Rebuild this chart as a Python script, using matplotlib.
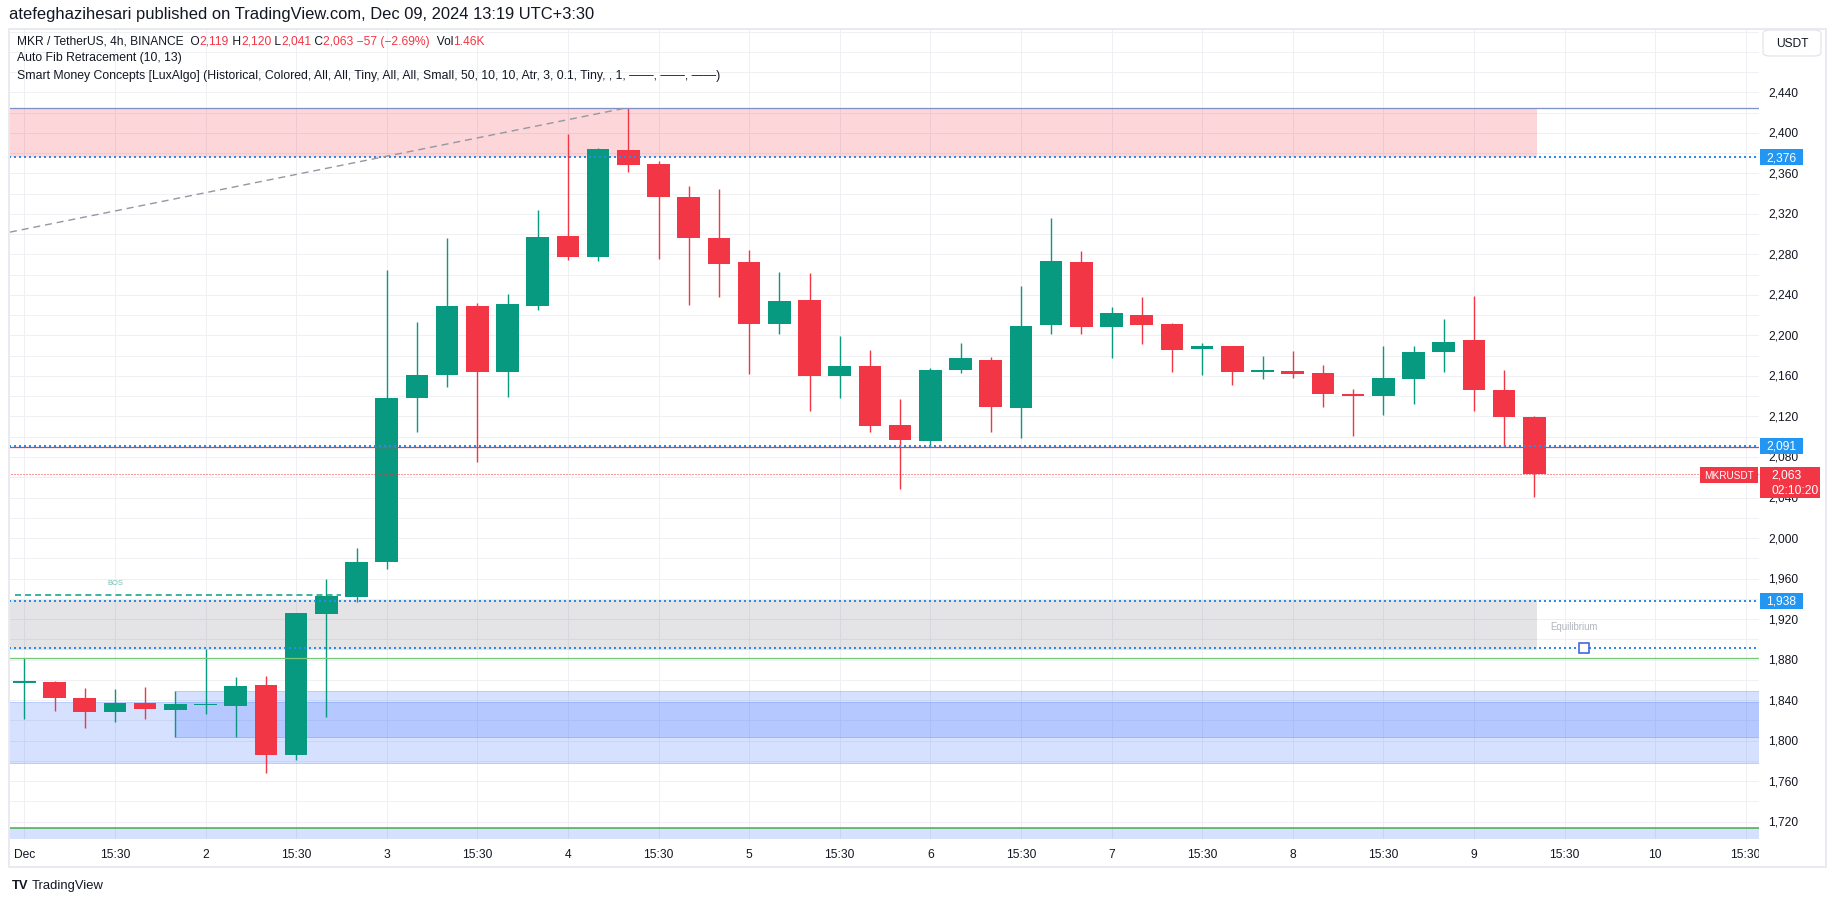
import numpy as np
import matplotlib
matplotlib.use("Agg")
import matplotlib.pyplot as plt
from matplotlib.patches import Rectangle, FancyBboxPatch
from matplotlib.transforms import blended_transform_factory

plt.rcParams["font.family"] = ["Liberation Sans", "DejaVu Sans"]

W, H = 1835, 903

# MKR/USDT 4h candles, Dec 1 03:30 -> Dec 9 11:30 (UTC+3:30)
opens = [1857, 1858, 1842, 1828, 1837, 1830, 1835, 1834, 1855, 1786,
         1925, 1942, 1976, 2138, 2161, 2229, 2164, 2229, 2298, 2277,
         2383, 2369, 2337, 2296, 2272, 2211, 2235, 2160, 2170, 2112,
         2096, 2166, 2176, 2128, 2210, 2272, 2208, 2220, 2211, 2187,
         2190, 2164, 2165, 2163, 2142, 2140, 2157, 2184, 2195, 2146, 2119]
highs = [1882, 1859, 1852, 1851, 1853, 1849, 1890, 1863, 1864, 1926,
         1960, 1990, 2265, 2213, 2296, 2232, 2241, 2324, 2399, 2385,
         2425, 2372, 2348, 2345, 2284, 2263, 2262, 2199, 2186, 2137,
         2168, 2193, 2179, 2249, 2316, 2283, 2228, 2238, 2212, 2193,
         2190, 2180, 2185, 2171, 2147, 2190, 2190, 2216, 2239, 2166, 2120]
lows = [1821, 1829, 1812, 1818, 1821, 1804, 1826, 1804, 1768, 1781,
        1823, 1937, 1969, 2105, 2149, 2075, 2139, 2225, 2274, 2273,
        2361, 2275, 2230, 2238, 2162, 2201, 2125, 2138, 2105, 2048,
        2090, 2163, 2105, 2099, 2201, 2201, 2178, 2192, 2164, 2161,
        2151, 2157, 2158, 2129, 2101, 2121, 2132, 2164, 2125, 2090, 2041]
closes = [1858, 1842, 1828, 1837, 1831, 1836, 1836, 1854, 1786, 1926,
          1943, 1976, 2138, 2161, 2229, 2164, 2231, 2297, 2277, 2384,
          2368, 2337, 2296, 2271, 2211, 2234, 2160, 2170, 2111, 2097,
          2166, 2178, 2129, 2209, 2273, 2208, 2222, 2210, 2186, 2190,
          2164, 2165, 2162, 2142, 2140, 2158, 2184, 2194, 2146, 2119, 2063]

time_labels = ["Dec", "15:30", "2", "15:30", "3", "15:30", "4", "15:30",
               "5", "15:30", "6", "15:30", "7", "15:30", "8", "15:30",
               "9", "15:30", "10", "15:30"]
time_label_bars = list(range(0, 60, 3))
price_ticks = list(range(1720, 2441, 40))

# Smart Money Concepts levels
premium_zone = (2376, 2425)
equilibrium_zone = (1889, 1939)
discount_zone = (1778, 1838)
order_block = (1804, 1849)
order_block_start = 5
zone_end = 50.1
swing_high_line = 2425
swing_low_line = 1714
level_2376 = 2376
level_2091 = 2091
level_red = 2089.5
level_1938 = 1938
level_1891 = 1891
green_level = 1882
bos_level = 1944
bos_span = (-0.3, 10.5)
fib_line = ([-0.4735, 20.0], [2302, 2425])
last_price = 2063

UP = "#089981"
DOWN = "#f23645"
TXT = "#131722"
BLUE = "#2a8ce6"


def fx(x):
    return x / W


def fy(y):
    return 1 - y / H


def pt(px):
    return px * 0.72


fig = plt.figure(figsize=(W / 100, H / 100), dpi=100)
fig.patch.set_facecolor("white")

ax = fig.add_axes([fx(10), fy(840), (1759 - 10) / W, (840 - 30) / H])
ax.set_xlim(-0.4735, 57.44)
ax.set_ylim(1702.9, 2502.5)
ax.axis("off")

# grid
for p in range(1700, 2501, 20):
    ax.axhline(p, color="#eef0f3", lw=pt(1), zorder=0)
for b in time_label_bars:
    ax.axvline(b, color="#eef0f3", lw=pt(1), zorder=0)

# zones
XL, XR = -3, 62
ax.fill_between([XL, zone_end], *premium_zone, color=DOWN, alpha=0.2, lw=0, zorder=1)
ax.fill_between([XL, zone_end], *equilibrium_zone, color="#787b86", alpha=0.2, lw=0, zorder=1)
ax.add_patch(Rectangle((XL, discount_zone[0]), XR - XL, discount_zone[1] - discount_zone[0],
                       facecolor=(0.16, 0.38, 1.0, 0.19), edgecolor=(0.16, 0.38, 1.0, 0.25),
                       lw=pt(1), zorder=1))
ax.add_patch(Rectangle((order_block_start, order_block[0]), XR - order_block_start,
                       order_block[1] - order_block[0],
                       facecolor=(0.16, 0.38, 1.0, 0.19), edgecolor=(0.16, 0.38, 1.0, 0.25),
                       lw=pt(1), zorder=1))
ax.fill_between([XL, XR], 1680, swing_low_line, color="#2962ff", alpha=0.19, lw=0, zorder=1)

# candles
x = np.arange(len(opens))
o = np.array(opens, dtype=float)
c = np.array(closes, dtype=float)
colors = [UP if cc >= oo else DOWN for oo, cc in zip(o, c)]
bottoms = np.minimum(o, c)
heights = np.maximum(np.abs(c - o), 1.6)
ax.vlines(x, lows, highs, colors=colors, linewidth=pt(1.4), zorder=3)
ax.bar(x, heights, bottom=bottoms, width=0.75, color=colors, linewidth=0, zorder=4)


def hline(y, color, lw, dashes=None, x0=XL, x1=XR, z=5):
    line, = ax.plot([x0, x1], [y, y], color=color, lw=pt(lw), zorder=z,
                    solid_capstyle="butt")
    if dashes:
        line.set_dashes(dashes)
        line.set_dash_capstyle("butt")
    return line


hline(swing_high_line, "#7f92c8", 1.3)
hline(level_2376, BLUE, 2, (1, 1.5))
hline(level_red, DOWN, 1.3)
hline(level_2091, BLUE, 2, (1, 1.5))
hline(last_price, DOWN, 1, (1, 2))
hline(level_1938, BLUE, 2, (1, 1.5))
hline(level_1891, BLUE, 2, (1, 1.5))
hline(green_level, "#76c776", 1.3)
hline(swing_low_line, "#4caf50", 1.6)
hline(bos_level, UP, 1.5, (4, 2.7), bos_span[0], bos_span[1])

fib, = ax.plot(fib_line[0], fib_line[1], color="#9598a1", lw=pt(1.4), zorder=5)
fib.set_dashes((5, 3.5))

ax.text(3.0, 1956, "BOS", color=UP, alpha=0.6, fontsize=pt(7.5), ha="center", va="center", zorder=6)
ax.text(51.3, 1913, "Equilibrium", color="#b2b5be", fontsize=pt(9.7), ha="center", va="center", zorder=6)
ax.plot([51.65], [level_1891], marker="s", markersize=pt(10), markerfacecolor="white",
        markeredgecolor="#3a62dc", markeredgewidth=pt(1.6), zorder=7)

# time axis
ax_t = fig.add_axes([fx(10), fy(868), (1759 - 10) / W, 28 / H])
ax_t.set_xlim(ax.get_xlim())
ax_t.set_ylim(0, 1)
ax_t.axis("off")
for b, lab in zip(time_label_bars, time_labels):
    ax_t.text(b, 0.46, lab, ha="center", va="center", fontsize=pt(12), color=TXT, clip_on=True)

# price axis
trans = blended_transform_factory(fig.transFigure, ax.transData)
for p in price_ticks:
    fig.text(fx(1768), p, f"{p:,}", transform=trans, ha="left", va="center",
             fontsize=pt(12), color=TXT, zorder=5)


def price_box(p, label, color, x0=1760, x1=1803, hpx=16):
    hp = hpx / 1.013
    fig.add_artist(Rectangle((fx(x0), p - hp / 2), fx(x1 - x0), hp, transform=trans,
                             facecolor=color, edgecolor="none", zorder=8))
    fig.text(fx((x0 + x1) / 2), p, label, transform=trans, ha="center", va="center",
             fontsize=pt(12), color="white", zorder=9)


price_box(level_2376, "2,376", "#2196f3")
price_box(level_2091, "2,091", "#2196f3")
price_box(level_1938, "1,938", "#2196f3")

# last price box with countdown
fig.add_artist(Rectangle((fx(1760), fy(499)), fx(60), 31 / H, facecolor=DOWN,
                         edgecolor="none", zorder=8))
fig.text(fx(1771), fy(476), "2,063", ha="left", va="center", fontsize=pt(12), color="white", zorder=9)
fig.text(fx(1771), fy(491), "02:10:20", ha="left", va="center", fontsize=pt(12), color="white", zorder=9)
fig.add_artist(Rectangle((fx(1700), fy(484)), fx(58), 16 / H, facecolor=DOWN,
                         edgecolor="none", zorder=8))
fig.text(fx(1729), fy(476), "MKRUSDT", ha="center", va="center", fontsize=pt(10), color="white", zorder=9)

# currency button
fig.add_artist(FancyBboxPatch((fx(1763), fy(57)), fx(58), 26 / H,
                              boxstyle="round,pad=0,rounding_size=0.004",
                              facecolor="white", edgecolor="#e0e3eb", lw=pt(1.2), zorder=8))
fig.text(fx(1792), fy(44), "USDT", ha="center", va="center", fontsize=pt(12), color=TXT, zorder=9)

# outer frame
fig.add_artist(Rectangle((fx(9), fy(868)), fx(1817), (868 - 30) / H, fill=False,
                         edgecolor="#e8eaef", lw=pt(2), zorder=10))

# header legend
fig.text(fx(9), fy(15), "atefeghazihesari published on TradingView.com, Dec 09, 2024 13:19 UTC+3:30",
         ha="left", va="center", fontsize=pt(16.5), color=TXT)

renderer = fig.canvas.get_renderer()


def seg_text(x0, y0, parts, size):
    xp = x0
    for s, col in parts:
        t = fig.text(fx(xp), fy(y0), s, ha="left", va="center", fontsize=size, color=col, zorder=6)
        xp += t.get_window_extent(renderer).width


seg_text(17, 42, [("MKR / TetherUS, 4h, BINANCE  O", TXT), ("2,119", DOWN), (" H", TXT),
                  ("2,120", DOWN), (" L", TXT), ("2,041", DOWN), (" C", TXT),
                  ("2,063 \u221257 (\u22122.69%)", DOWN), ("  Vol", TXT), ("1.46K", DOWN)], pt(12))
fig.text(fx(17), fy(58.5), "Auto Fib Retracement (10, 13)", ha="left", va="center",
         fontsize=pt(12.2), color=TXT)
fig.text(fx(17), fy(76), "Smart Money Concepts [LuxAlgo] (Historical, Colored, All, All, Tiny, All, All, "
         "Small, 50, 10, 10, Atr, 3, 0.1, Tiny, , 1, \u2014\u2014, \u2014\u2014, \u2014\u2014)",
         ha="left", va="center", fontsize=pt(12.2), color=TXT)

# watermark
fig.text(fx(12), fy(886), "TV", ha="left", va="center", fontsize=pt(13), fontweight="bold", color=TXT)
fig.text(fx(32), fy(886), "TradingView", ha="left", va="center", fontsize=pt(13), color=TXT)

fig.savefig("out.png", dpi=100, facecolor="white")
